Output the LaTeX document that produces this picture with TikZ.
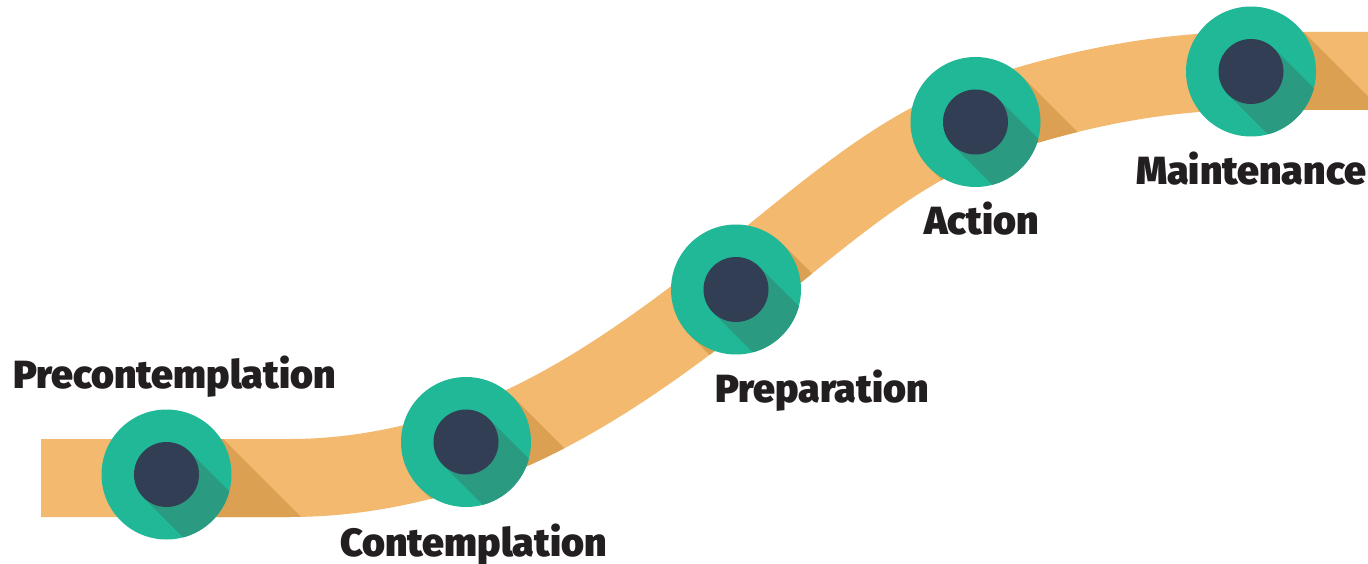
\documentclass[tikz,border=0pt]{standalone}
\usepackage{fontspec}
\IfFontExistsTF{Fira Sans Black}
  {\newfontfamily\stagefont{Fira Sans Black}}
  {\newfontfamily\stagefont{Fira Sans}[FakeBold=2]}
\definecolor{road}{HTML}{F3B96F}
\definecolor{roadshade}{HTML}{DCA052}
\definecolor{ring}{HTML}{21B898}
\definecolor{ringshade}{HTML}{2A9A80}
\definecolor{hub}{HTML}{323E54}
\definecolor{ink}{HTML}{231F20}
\begin{document}
\begin{tikzpicture}[x=1pt,y=-1pt,
  roadroute/.style={insert path={(41,478) -- (290,478)
      .. controls (348.67,478) and (407.33,467.36) .. (466,448)
      .. controls (556,418.3) and (646,357) .. (736,285)
      .. controls (815.67,221.27) and (895.33,149.88) .. (975,122)
      .. controls (1066.67,89.92) and (1158.33,71) .. (1250,71)
      -- (1368,71)}},
  roadline/.style={line width=78pt},
  ringnode/.style={circle, fill=ring, minimum size=130pt, inner sep=0pt},
  hubnode/.style={circle, fill=hub, minimum size=65pt, inner sep=0pt},
  stage/.style={font=\stagefont\fontsize{39.3}{40}\selectfont, text=ink,
    inner sep=0pt, anchor=base west}]
\fill[white] (0,0) rectangle (1368,564);
\useasboundingbox (0,0) rectangle (1368,564);

% station centres
\coordinate (c1) at (166.5,474.5);
\coordinate (c2) at (466,442);
\coordinate (c3) at (736,289.5);
\coordinate (c4) at (975.5,122);
\coordinate (c5) at (1251,71.5);

% the road
\draw[roadline, road, roadroute];

% long shadows of the stations cast on the road
\foreach \i in {1,...,5} {
  \begin{scope}
    \clip ([shift={(46,-46)}]c\i) -- ++(500,500)
      -- ([shift={(454,546)}]c\i) -- ([shift={(-46,46)}]c\i) -- cycle;
    \draw[roadline, roadshade, roadroute];
  \end{scope}
}

% stations: ring, inner long shadow, hub
\foreach \i in {1,...,5} {
  \node[ringnode] (ring\i) at (c\i) {};
  \begin{scope}
    \clip (c\i) circle[radius=65];
    \fill[ringshade] ([shift={(23,-23)}]c\i) -- ++(200,200)
      -- ([shift={(177,223)}]c\i) -- ([shift={(-23,23)}]c\i) -- cycle;
  \end{scope}
  \node[hubnode] (hub\i) at (c\i) {};
}

% stage labels
\node[stage] (precontemplation) at (13,388) {Precontemplation};
\node[stage] (contemplation) at (340,556) {Contemplation};
\node[stage] (preparation) at (715,402) {Preparation};
\node[stage] (action) at (924,234) {Action};
\node[stage] (maintenance) at (1136,185) {Maintenance};
\end{tikzpicture}
\end{document}
